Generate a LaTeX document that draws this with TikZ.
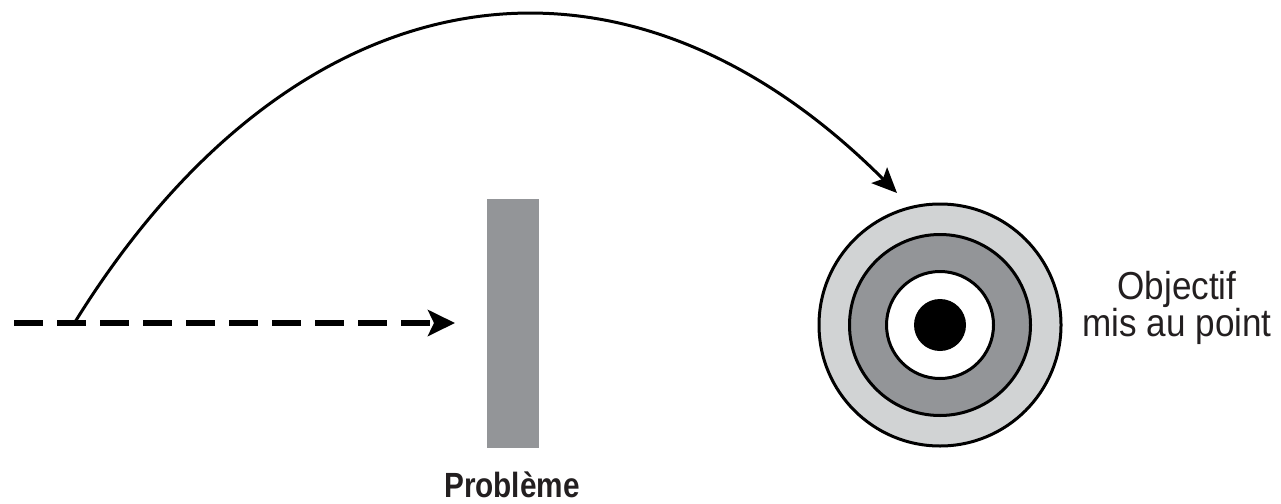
\documentclass[tikz,border=0pt]{standalone}
\usepackage{fontspec}
\setmainfont{Liberation Sans}
\newfontfamily\condfont[FakeStretch=0.9]{Liberation Sans}
\newfontfamily\condbold[FakeStretch=0.85]{Liberation Sans Bold}
\usetikzlibrary{arrows.meta}
\definecolor{inkdark}{HTML}{231F20}
\definecolor{ringlight}{HTML}{D1D3D4}
\definecolor{ringmid}{HTML}{939598}
\tikzset{
  path/.style={line width=6, dash pattern=on 29 off 14,
    -{Stealth[length=27, width=26, inset=6]}},
  leap/.style={line width=3, -{Stealth[length=25, width=22, inset=5]}},
  ring/.style={circle, draw=black, line width=3, inner sep=0},
  wall/.style={fill=ringmid, inner sep=0, minimum width=52, minimum height=249},
  caption/.style={inner sep=0, text=inkdark}
}
\begin{document}
\begin{tikzpicture}[x=1pt, y=-1pt]
  \useasboundingbox (0,0) rectangle (1281,503);

  % obstacle
  \node[wall] (bar) at (513,323.5) {};
  \node[caption, anchor=base, font=\condbold\fontsize{35}{35}\selectfont]
    (problem) at (512,497) {Problème};

  % target rings
  \node[ring, fill=ringlight, minimum size=242] (outer) at (940,325) {};
  \node[ring, fill=ringmid, minimum size=181] (middle) at (outer.center) {};
  \node[ring, fill=white, minimum size=107] (inner) at (outer.center) {};
  \node[circle, fill=black, inner sep=0, minimum size=52] (bull) at (outer.center) {};
  \node[caption, align=center, font=\condfont\fontsize{39}{30}\selectfont]
    (goal) at (1177,308) {Objectif\\mis au point};

  % straight path blocked by the obstacle
  \coordinate (dstart) at (14,323);
  \coordinate (dend) at (455,323);
  \draw[path] (dstart) -- (dend);

  % leap over the obstacle to the target
  \coordinate (lstart) at (75,322);
  \coordinate (lend) at (897,193);
  \draw[leap] (lstart) .. controls (290,-25) and (614,-90) .. (lend);
\end{tikzpicture}
\end{document}
